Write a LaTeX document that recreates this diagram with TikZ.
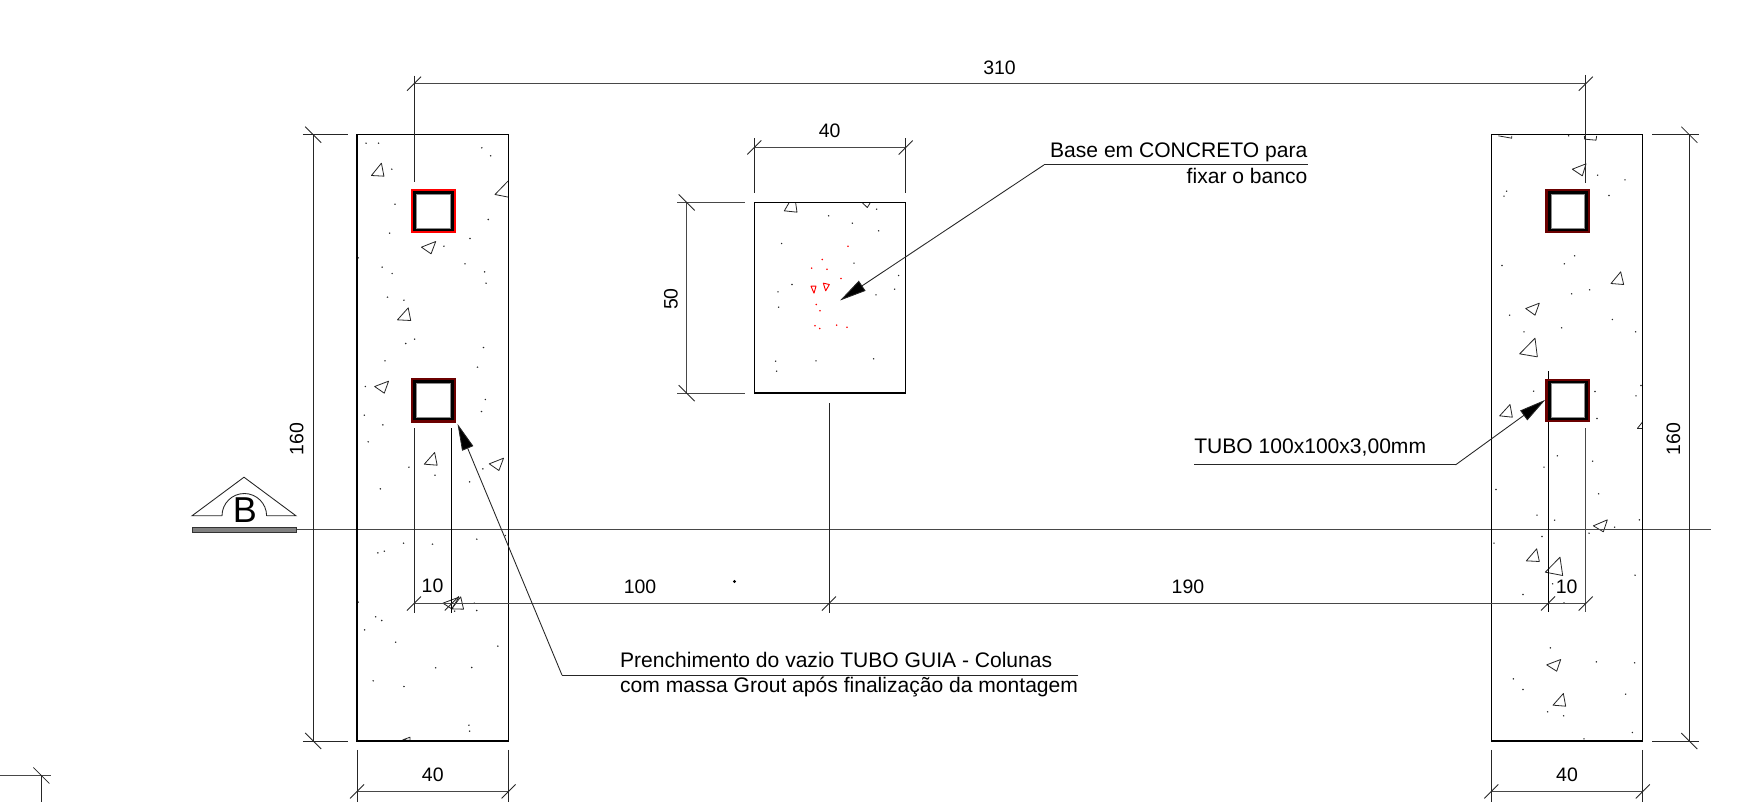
\documentclass[tikz,border=0pt]{standalone}
\usepackage{fontspec}
\setmainfont{Liberation Sans}
\usetikzlibrary{arrows.meta}
\definecolor{dimc}{gray}{0.28}
\definecolor{darkred}{rgb}{0.42,0,0}
\tikzset{
  dimline/.style={draw=dimc,line width=0.8pt},
  extline/.style={draw=black!85,line width=0.65pt},
  outline/.style={draw=black,line width=1.05pt},
  aggr/.style={draw=black!85,line width=0.6pt,line join=round},
  aggrred/.style={draw=red,line width=0.7pt,line join=round},
  dimtext/.style={inner sep=0pt,font=\fontsize{14.6}{17}\selectfont},
  notetext/.style={inner sep=0pt,font=\fontsize{15.8}{18}\selectfont},
  leader/.style={draw=black!85,line width=0.65pt,-{Triangle[length=20pt,width=9pt,fill=black]}},
  plainleader/.style={draw=black!85,line width=0.65pt},
}
\newcommand{\dimfs}[2]{\draw[dimline,black!85,line width=0.65pt] (#1-7,#2+7)--(#1+7,#2-7);}
\newcommand{\dimbs}[2]{\draw[dimline,black!85,line width=0.65pt] (#1-8,#2-8)--(#1+8,#2+8);}
\newcommand{\tube}[5]{%
  \fill[#5] (#1,#3) rectangle (#2,#4);
  \fill[black] (#1+2.2,#3+2.2) rectangle (#2-2.2,#4-2.2);
  \fill[white] (#1+5.7,#3+5.2) rectangle (#2-5.7,#4-5.2);
  \draw[black!45,line width=0.4pt] (#1+5.7,#3+5.2) rectangle (#2-5.7,#4-5.2);
}
\begin{document}
\begin{tikzpicture}[x=0.75pt,y=-0.75pt]
\useasboundingbox (0,-0.5) rectangle (1745,800.5);
\fill[white] (0,-0.5) rectangle (1745,800.5);

% aggregate, left column, zoom coordinates
\begin{scope}[x=0.267857pt,y=-0.25pt,shift={(0pt,-75pt)}]
\foreach \p in {(1025,128),(1060,128),(1097,206),(1349,142),(1374,166),(1106,311),(1367,357),(1091,398),(1316,414),(1243,437),(1003,472),(1070,500),(1098,519),(1302,490),(1357,514),(1361,548),(1085,590),(1131,599),(1136,729),(1161,716),(1354,741),(1078,781),(1337,800),(1023,858),(1359,897),(1348,933),(1020,944),(1072,973),(1031,1024),(1145,1100),(1218,1124),(1352,1105),(1315,1144),(1065,1165)}
  \fill[black!85] \p circle[radius=2.4];
\draw[aggr] (1040,225)--(1068,188)--(1075,227)--cycle;
\draw[aggr] (1424,240)--(1386,282)--(1424,290);
\draw[aggr] (1180,440)--(1220,423)--(1207,460)--cycle;
\draw[aggr] (1113,658)--(1143,622)--(1150,660)--cycle;
\draw[aggr] (1049,858)--(1088,842)--(1076,878)--cycle;
\draw[aggr] (1188,1091)--(1217,1056)--(1224,1094)--cycle;
\draw[aggr] (1370,1090)--(1410,1073)--(1397,1110)--cycle;
\end{scope}
\begin{scope}[x=0.267857pt,y=-0.25pt,shift={(0pt,-360pt)}]
\foreach \p in {(1130,188),(1211,191),(1076,212),(1058,217),(1335,176),(1415,165),(1328,368),(1335,390),(1273,392),(1052,409),(1069,420),(1021,448),(1108,485),(1394,497),(1220,562),(1321,561),(1045,601),(1131,618),(1313,734),(1315,752),(1003,365)}
  \fill[black!85] \p circle[radius=2.4];
\draw[aggr] (1240,368)--(1285,350)--(1265,385)--cycle;
\draw[aggr] (1265,385)--(1290,349)--(1298,386)--cycle;
\draw[aggr] (1128,778)--(1148,770)--(1148,780)--cycle;
\end{scope}
% aggregate, centre block
\begin{scope}[x=0.25pt,y=-0.25pt,shift={(495pt,-82.5pt)}]
\foreach \p in {(506,316),(577,338),(650,296),(656,361),(365,399),(582,458),(716,495),(704,536),(648,553),(396,522),(354,544),(356,590),(347,752),(350,782),(468,751),(641,745)}
  \fill[black!85] \p circle[radius=2.4];
\foreach \p in {(564,407),(487,447),(455,473),(501,476),(543,504),(469,582),(480,601),(465,646),(479,654),(530,644),(561,650)}
  \fill[red] \p circle[radius=2.6];
\draw[aggrred] (490,518)--(508,522)--(497,541)--cycle;
\draw[aggrred] (453,527)--(468,527)--(462,548)--cycle;
\draw[aggr] (387,277)--(373,301)--(411,305)--(407,277);
\draw[aggr] (608,278)--(622,291)--(630,278);
\end{scope}
% aggregate, right column
\begin{scope}[x=0.25pt,y=-0.25pt,shift={(1080pt,-45pt)}]
\foreach \p in {(473,344),(555,358),(200,392),(192,407),(507,405),(404,586),(373,610),(186,615),(449,688),(395,700),(209,764),(517,777),(252,814),(365,802),(587,814),(281,992),(465,993),(588,1006),(603,975),(471,1074),(386,226)}
  \fill[black!85] \p circle[radius=2.4];
\draw[aggr] (397,326)--(438,310)--(427,346)--cycle;
\draw[aggr] (513,669)--(542,634)--(551,672)--cycle;
\draw[aggr] (257,744)--(298,728)--(285,764)--cycle;
\draw[aggr] (239,880)--(285,833)--(292,889)--cycle;
\draw[aggr] (179,1066)--(210,1032)--(217,1070)--cycle;
\draw[aggr] (592,1104)--(607,1085);
\draw[aggr] (592,1104)--(607,1104);
\draw[aggr] (175,226)--(215,233)--(215,226);
\draw[aggr] (433,226)--(434,236)--(468,239)--(470,226);
\end{scope}
\begin{scope}[x=0.25pt,y=-0.25pt,shift={(1080pt,-337.5pt)}]
\foreach \p in {(352,16),(458,32),(312,50),(168,117),(476,130),(291,194),(344,209),(598,208),(524,230),(306,258),(447,248),(162,278),(585,374),(338,400),(249,432),(372,457),(331,592),(469,634),(584,637),(220,685),(249,717),(557,731),(323,784),(371,796),(577,846),(432,865)}
  \fill[black!85] \p circle[radius=2.4];
\draw[aggr] (460,226)--(502,208)--(490,244)--cycle;
\draw[aggr] (259,331)--(290,295)--(298,333)--cycle;
\draw[aggr] (316,365)--(360,320)--(368,375)--cycle;
\draw[aggr] (320,643)--(362,627)--(350,662)--cycle;
\draw[aggr] (339,764)--(370,729)--(377,767)--cycle;
\end{scope}
\fill[black] (734.5,581) circle[radius=1.6];

% section line and marker
\draw[dimline] (296,528.7)--(1710.5,528.7);
\draw[draw=black!80,fill=black!50,line width=0.6pt] (192,526.5) rectangle (296,532);
\draw[extline] (222,515.3)--(192,515.3)--(244,476.7)--(296,515.3)--(266.6,515.3);
\draw[extline] (222,515.3) arc[start angle=180,end angle=360,radius=22.3];
\node[inner sep=0pt,font=\fontsize{27}{30}\selectfont] (sectB) at (244.8,509.5) {B};

% concrete blocks
\draw[outline] (357,134.2) rectangle (508.6,740.5);
\draw[outline] (754.3,202) rectangle (905.7,392.6);
\draw[outline] (1491.3,134.2) rectangle (1642.7,740.5);

% 310
\draw[extline] (414,75)--(414,181.7);
\draw[extline] (1585.7,74.3)--(1585.7,182);
\draw[dimline] (414,83.2)--(1585.7,83.2);
\dimfs{414}{83.2}\dimfs{1585.7}{83.2}
\node[dimtext] (d310) at (999.5,67.6) {310};

% 160 left
\draw[extline] (302.9,134.2)--(348.2,134.2);
\draw[extline] (302.9,740.5)--(348.2,740.5);
\draw[extline] (313.2,134.2)--(313.2,740.5);
\dimbs{313.2}{134.2}\dimbs{313.2}{740.5}
\node[dimtext,rotate=90] (d160l) at (296.6,438.5) {160};
% 160 right
\draw[extline] (1652,134.2)--(1699,134.2);
\draw[extline] (1652,740.5)--(1699,740.5);
\draw[extline] (1689.3,134.2)--(1689.3,740.5);
\dimbs{1689.3}{134.2}\dimbs{1689.3}{740.5}
\node[dimtext,rotate=90] (d160r) at (1673.3,438.5) {160};

% 40 below, left and right
\draw[extline] (357,749.3)--(357,801);
\draw[extline] (508.6,749.3)--(508.6,801);
\draw[dimline] (357,790.9)--(508.6,790.9);
\dimfs{357}{790.9}\dimfs{508.6}{790.9}
\node[dimtext] (d40l) at (432.8,774.6) {40};
\draw[extline] (1491.3,749.3)--(1491.3,801);
\draw[extline] (1642.7,749.3)--(1642.7,801);
\draw[dimline] (1491.3,790.9)--(1642.7,790.9);
\dimfs{1491.3}{790.9}\dimfs{1642.7}{790.9}
\node[dimtext] (d40r) at (1567,774.6) {40};

% corner at lower left
\draw[dimline] (0,775)--(51,775);
\draw[extline] (41.4,775)--(41.4,801);
\dimbs{41.4}{775}

% centre block dims
\draw[extline] (754.3,137.7)--(754.3,192.7);
\draw[extline] (905.7,137.7)--(905.7,192.7);
\draw[dimline] (754.3,147)--(905.7,147);
\dimfs{754.3}{147}\dimfs{905.7}{147}
\node[dimtext] (d40c) at (829.7,130.7) {40};
\draw[dimline] (677.3,202)--(745,202);
\draw[dimline] (677.3,392.6)--(745,392.6);
\draw[dimline] (686.7,202)--(686.7,392.6);
\dimbs{686.7}{202}\dimbs{686.7}{392.6}
\node[dimtext,rotate=90] (d50) at (671,298.5) {50};

% lower chain
\draw[extline] (829,402.5)--(829,612);
\draw[extline] (414,427.7)--(414,612);
\draw[extline,black,line width=0.75pt] (451.8,427.7)--(451.8,612);
\draw[extline,black,line width=0.75pt] (1548,370.7)--(1548,611.7);
\draw[dimline] (1585.7,427.7)--(1585.7,611.7);
\draw[dimline] (414,603)--(1585.7,603);
\dimfs{414}{603}\dimfs{451.8}{603}\dimfs{829}{603}\dimfs{1548}{603}\dimfs{1585.7}{603}
\node[dimtext] (d10l) at (432.5,585.7) {10};
\node[dimtext] (d100) at (640,586.3) {100};
\node[dimtext] (d190) at (1187.9,586.3) {190};
\node[dimtext] (d10r) at (1566.7,586) {10};

% tubes
\tube{410.7}{455.7}{188.3}{232.7}{red}
\tube{410.7}{455.7}{377.5}{422}{darkred}
\tube{1545.3}{1589.7}{188.3}{232.7}{darkred}
\tube{1545.3}{1589.7}{378}{421.7}{darkred}

% notes
\node[notetext,anchor=east] (n1) at (1307.6,152) {Base em CONCRETO para};
\node[notetext,anchor=east] (n2) at (1307.6,175) {fixar o banco};
\coordinate (n1a) at (1307.6,164.4);
\coordinate (n1b) at (1044,164.4);
\coordinate (n1t) at (840,300);
\draw[plainleader] (n1a)--(n1b);
\draw[leader] (n1b)--(n1t);

\node[notetext,anchor=west] (n3) at (619.9,659.5) {Prenchimento do vazio TUBO GUIA - Colunas};
\node[notetext,anchor=west] (n4) at (619.9,686.5) {com massa Grout após finalização da montagem};
\coordinate (n3a) at (1078.3,674.6);
\coordinate (n3b) at (562,674.6);
\coordinate (n3t) at (457.5,423.3);
\draw[plainleader] (n3a)--(n3b);
\draw[leader] (n3b)--(n3t);

\node[notetext,anchor=west] (n5) at (1194,446.5) {TUBO 100x100x3,00mm};
\coordinate (n5a) at (1194,464.4);
\coordinate (n5b) at (1455.5,464.4);
\coordinate (n5t) at (1545.3,399.3);
\draw[plainleader] (n5a)--(n5b);
\draw[leader] (n5b)--(n5t);
\end{tikzpicture}
\end{document}
